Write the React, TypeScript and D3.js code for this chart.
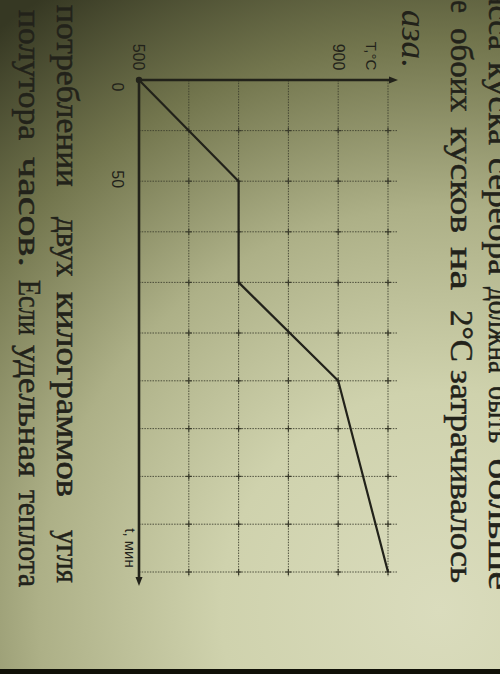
import React from 'react';
import * as d3 from 'd3';

// graph data: time (min) vs temperature (°C)
const timeMin = [0, 50, 100, 150, 250];
const tempC = [500, 700, 700, 900, 1000];

const timeGrid = [0, 25, 50, 75, 100, 125, 150, 175, 200, 225, 250];
const tempGrid = [500, 600, 700, 800, 900, 1000];
const timeLabels = ['0', '50'];
const tempLabels = ['500', '900'];

// page text around the graph (photo is rotated 90° clockwise): word, start, end (along the line)
const line1Words = ['масса', 'куска', 'серебра', 'должна', 'быть', 'больше'];
const line1Spans = [[-30, 50], [62, 145], [158, 275], [287, 373], [386, 443], [458, 590]];
const line2Words = ['е', 'обоих', 'кусков', 'на', '2°C', 'затрачивалось'];
const line2Spans = [[0, 13], [28, 112], [127, 233], [247, 290], [310, 362], [370, 583]];
const lineAWords = ['потреблении', 'двух', 'килограммов', 'угля'];
const lineASpans = [[5, 187], [217, 277], [292, 497], [530, 583]];
const lineBWords = ['полутора', 'часов.', 'Если', 'удельная', 'теплота'];
const lineBSpans = [[10, 140], [157, 267], [280, 335], [345, 477], [490, 587]];

const W = 500;
const H = 674;

export default function App() {
  // T goes to the right, t goes down (rotated photo)
  const x = d3.scaleLinear().domain([500, 1000]).range([139, 388]);
  const y = d3.scaleLinear().domain([0, 125, 250]).range([80, 333, 572]);

  const pts: [number, number][] = timeMin.map((t, i) => [x(tempC[i]), y(t)]);
  const path = d3.line()(pts) || '';

  const ink = '#22221a';
  const gridCol = '#3b3c2c';

  const serif = "'Liberation Serif', 'DejaVu Serif', serif";
  const sans = "'Liberation Sans', Arial, sans-serif";

  const wordLine = (words: string[], spans: number[][], bx: number, size: number) =>
    words.map((w, i) => (
      <text
        key={w + i}
        transform={`translate(${bx},${spans[i][0]}) rotate(90)`}
        fontFamily={serif}
        fontSize={size}
        fill={ink}
        stroke={ink}
        strokeWidth={0.5}
        textLength={spans[i][1] - spans[i][0]}
        lengthAdjust="spacingAndGlyphs"
      >
        {w}
      </text>
    ));

  const xMin = x(500);
  const xMax = x(1000);
  const yMin = y(0);
  const yMax = y(250);

  return (
    <svg width={W} height={H} style={{ position: 'absolute', left: 0, top: 0, display: 'block' }}>
      <defs>
        <radialGradient id="paper" gradientUnits="userSpaceOnUse" cx="440" cy="610" r="730">
          <stop offset="0" stopColor="#dadcbd" />
          <stop offset="0.3" stopColor="#cfd2ad" />
          <stop offset="0.55" stopColor="#adb087" />
          <stop offset="0.78" stopColor="#72754d" />
          <stop offset="1" stopColor="#363823" />
        </radialGradient>
      </defs>
      <rect width={W} height={H} fill="url(#paper)" />
      <rect y={669} width={W} height={5} fill="#111108" />

      {/* text of the page */}
      {wordLine(line1Words, line1Spans, 489, 32)}
      {wordLine(line2Words, line2Spans, 451, 32)}
      {wordLine(lineAWords, lineASpans, 57, 32)}
      {wordLine(lineBWords, lineBSpans, 19, 32)}
      <text
        transform={`translate(402,10) rotate(90)`}
        fontFamily={serif}
        fontStyle="italic"
        fontSize={36}
        fill={ink}
        textLength={58}
        lengthAdjust="spacingAndGlyphs"
      >
        аза.
      </text>

      {/* grid */}
      <g stroke={gridCol} strokeWidth={1} strokeDasharray="1.5,1.2" opacity={0.85}>
        {tempGrid.slice(1).map((T) => (
          <line key={'v' + T} x1={x(T)} x2={x(T)} y1={yMin} y2={yMax + 5} />
        ))}
        {timeGrid.slice(1).map((t) => (
          <line key={'h' + t} x1={xMin} x2={xMax + 9} y1={y(t)} y2={y(t)} />
        ))}
      </g>
      <g stroke={gridCol} strokeWidth={1.2}>
        {tempGrid.slice(1).map((T) =>
          timeGrid.slice(1).map((t) => (
            <g key={T + '-' + t}>
              <line x1={x(T) - 3} x2={x(T) + 3} y1={y(t)} y2={y(t)} />
              <line x1={x(T)} x2={x(T)} y1={y(t) - 3} y2={y(t) + 3} />
            </g>
          ))
        )}
      </g>

      {/* axes */}
      <g stroke={ink} strokeWidth={2.6} fill="none">
        <line x1={xMin} x2={xMax + 4} y1={yMin} y2={yMin} />
        <line x1={xMin} x2={xMin} y1={yMin} y2={yMax + 9} />
      </g>
      <path d={`M${xMax + 10},${yMin} l-9,-3.5 l0,7 z`} fill={ink} />
      <path d={`M${xMin},${yMax + 14} l-3.5,-9 l7,0 z`} fill={ink} />
      <circle cx={xMin} cy={yMin} r={3.2} fill={ink} />

      {/* curve */}
      <path d={path} fill="none" stroke={ink} strokeWidth={2.2} strokeLinejoin="round" />

      {/* tick labels */}
      {tempLabels.map((l) => (
        <text
          key={'T' + l}
          transform={`translate(${x(+l)},57) rotate(90)`}
          textAnchor="middle"
          dy="0.35em"
          fontFamily={sans}
          fontSize={16}
          fill={ink}
        >
          {l}
        </text>
      ))}
      {timeLabels.map((l) => (
        <text
          key={'t' + l}
          transform={`translate(118,${y(+l) + (l === '0' ? 7 : -2)}) rotate(90)`}
          textAnchor="middle"
          dy="0.35em"
          fontFamily={sans}
          fontSize={16}
          fill={ink}
        >
          {l}
        </text>
      ))}
      <text
        transform={`translate(371,56) rotate(90)`}
        textAnchor="middle"
        dy="0.35em"
        fontFamily={sans}
        fontSize={15}
        fill={ink}
      >
        T,°C
      </text>
      <text
        transform={`translate(130,548) rotate(90)`}
        textAnchor="middle"
        dy="0.35em"
        fontFamily={sans}
        fontSize={15}
        fill={ink}
      >
        t, мин
      </text>
    </svg>
  );
}
